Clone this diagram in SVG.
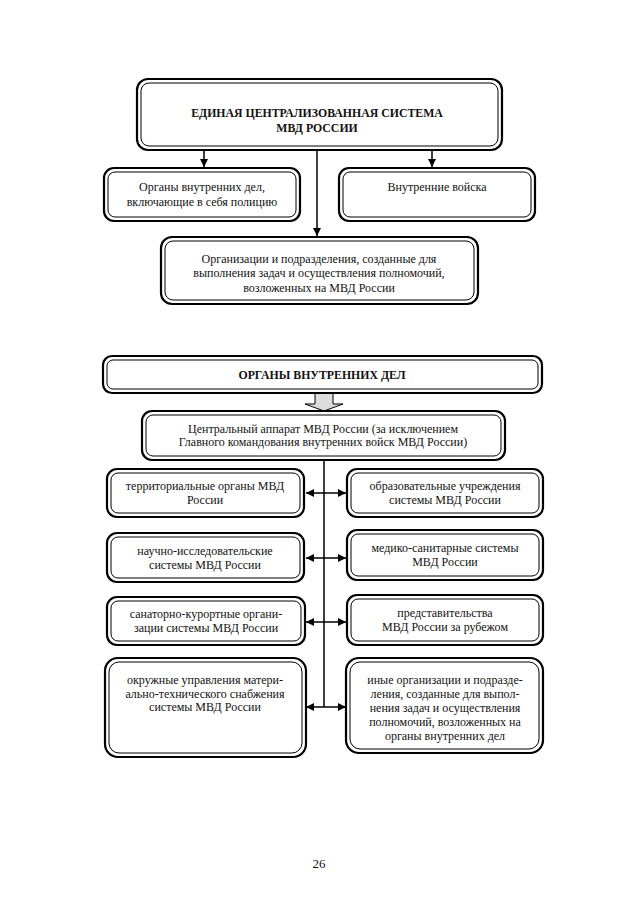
<svg xmlns="http://www.w3.org/2000/svg" width="638" height="904" viewBox="0 0 638 904">
<defs>
<style>
.o{fill:#fff;stroke:#000;stroke-width:2.2}
.i{fill:none;stroke:#000;stroke-width:1}
.t{font-family:"Liberation Serif","Times New Roman",serif;font-size:12px;fill:#111;text-anchor:middle}
.b{font-weight:bold;font-size:11.8px}
.c{stroke:#000;stroke-width:1.5;fill:none}
</style>
<marker id="ah" viewBox="0 0 10 10" refX="10" refY="5" markerWidth="8" markerHeight="8" markerUnits="userSpaceOnUse" orient="auto-start-reverse">
<path d="M0,0 L10,5 L0,10 Z" fill="#000"/>
</marker>
</defs>
<rect width="638" height="904" fill="#fff"/>

<g id="connectors">
<line class="c" x1="204" y1="150" x2="204" y2="167" marker-end="url(#ah)"/>
<line class="c" x1="432" y1="150" x2="432" y2="167" marker-end="url(#ah)"/>
<line class="c" x1="317" y1="150" x2="317" y2="236" marker-end="url(#ah)"/>
<path d="M315,393 L333,393 L333,404 L343,404 L324,411 L305,404 L315,404 Z" fill="#ddd" stroke="#000" stroke-width="1"/>
<line class="c" x1="324" y1="460" x2="324" y2="707"/>
<line class="c" x1="306" y1="493" x2="346" y2="493" marker-start="url(#ah)" marker-end="url(#ah)"/>
<line class="c" x1="306" y1="558" x2="346" y2="558" marker-start="url(#ah)" marker-end="url(#ah)"/>
<line class="c" x1="306" y1="622" x2="346" y2="622" marker-start="url(#ah)" marker-end="url(#ah)"/>
<line class="c" x1="306" y1="707" x2="346" y2="707" marker-start="url(#ah)" marker-end="url(#ah)"/>
</g>

<g id="n_top">
<rect class="o" x="137" y="79" width="365" height="71" rx="11"/>
<rect class="i" x="141" y="83" width="357" height="63" rx="8"/>
<text class="t b" x="317" y="117">ЕДИНАЯ ЦЕНТРАЛИЗОВАННАЯ СИСТЕМА</text>
<text class="t b" x="317" y="132">МВД РОССИИ</text>
</g>

<g id="n_ovd1">
<rect class="o" x="104" y="168" width="196" height="53" rx="10"/>
<rect class="i" x="108" y="172" width="188" height="45" rx="7"/>
<text class="t" x="202" y="191">Органы внутренних дел,</text>
<text class="t" x="202" y="206">включающие в себя полицию</text>
</g>

<g id="n_vv">
<rect class="o" x="339" y="168" width="196" height="53" rx="10"/>
<rect class="i" x="343" y="172" width="188" height="45" rx="7"/>
<text class="t" x="437" y="191">Внутренние войска</text>
</g>

<g id="n_org">
<rect class="o" x="161" y="237" width="317" height="67" rx="11"/>
<rect class="i" x="165" y="241" width="309" height="59" rx="8"/>
<text class="t" x="319" y="263">Организации и подразделения, созданные для</text>
<text class="t" x="319" y="277">выполнения задач и осуществления полномочий,</text>
<text class="t" x="319" y="292">возложенных на МВД России</text>
</g>

<g id="n_ovd2">
<rect class="o" x="103" y="356" width="439" height="37" rx="9"/>
<rect class="i" x="107" y="360" width="431" height="29" rx="6"/>
<text class="t b" x="322" y="379">ОРГАНЫ ВНУТРЕННИХ ДЕЛ</text>
</g>

<g id="n_central">
<rect class="o" x="142" y="411" width="363" height="49" rx="10"/>
<rect class="i" x="146" y="415" width="355" height="41" rx="7"/>
<text class="t" x="323" y="433">Центральный аппарат МВД России (за исключением</text>
<text class="t" x="323" y="446">Главного командования внутренних войск МВД России)</text>
</g>

<g id="n_terr">
<rect class="o" x="107" y="469" width="197" height="48" rx="10"/>
<rect class="i" x="111" y="473" width="189" height="40" rx="7"/>
<text class="t" x="205" y="490">территориальные органы МВД</text>
<text class="t" x="205" y="504">России</text>
</g>

<g id="n_obr">
<rect class="o" x="347" y="469" width="196" height="48" rx="10"/>
<rect class="i" x="351" y="473" width="188" height="40" rx="7"/>
<text class="t" x="445" y="490">образовательные учреждения</text>
<text class="t" x="445" y="504">системы МВД России</text>
</g>

<g id="n_nauch">
<rect class="o" x="107" y="533" width="197" height="49" rx="10"/>
<rect class="i" x="111" y="537" width="189" height="41" rx="7"/>
<text class="t" x="205" y="555">научно-исследовательские</text>
<text class="t" x="205" y="569">системы МВД России</text>
</g>

<g id="n_med">
<rect class="o" x="347" y="530" width="196" height="50" rx="10"/>
<rect class="i" x="351" y="534" width="188" height="42" rx="7"/>
<text class="t" x="445" y="552">медико-санитарные системы</text>
<text class="t" x="445" y="566">МВД России</text>
</g>

<g id="n_san">
<rect class="o" x="107" y="597" width="198" height="48" rx="10"/>
<rect class="i" x="111" y="601" width="190" height="40" rx="7"/>
<text class="t" x="206" y="618">санаторно-курортные органи-</text>
<text class="t" x="206" y="632">зации системы МВД России</text>
</g>

<g id="n_pred">
<rect class="o" x="347" y="595" width="196" height="50" rx="10"/>
<rect class="i" x="351" y="599" width="188" height="42" rx="7"/>
<text class="t" x="445" y="617">представительства</text>
<text class="t" x="445" y="631">МВД России за рубежом</text>
</g>

<g id="n_okr">
<rect class="o" x="105" y="658" width="201" height="99" rx="13"/>
<rect class="i" x="109" y="662" width="193" height="91" rx="10"/>
<text class="t" x="205" y="684">окружные управления матери-</text>
<text class="t" x="205" y="698">ально-технического снабжения</text>
<text class="t" x="205" y="711">системы МВД России</text>
</g>

<g id="n_inye">
<rect class="o" x="346" y="658" width="197" height="95" rx="13"/>
<rect class="i" x="350" y="662" width="189" height="87" rx="10"/>
<text class="t" x="445" y="684">иные организации и подразде-</text>
<text class="t" x="445" y="698">ления, созданные для выпол-</text>
<text class="t" x="445" y="712">нения задач и осуществления</text>
<text class="t" x="445" y="726">полномочий, возложенных на</text>
<text class="t" x="445" y="740">органы внутренних дел</text>
</g>

<text class="t" x="319" y="868" style="font-size:13px">26</text>
</svg>
